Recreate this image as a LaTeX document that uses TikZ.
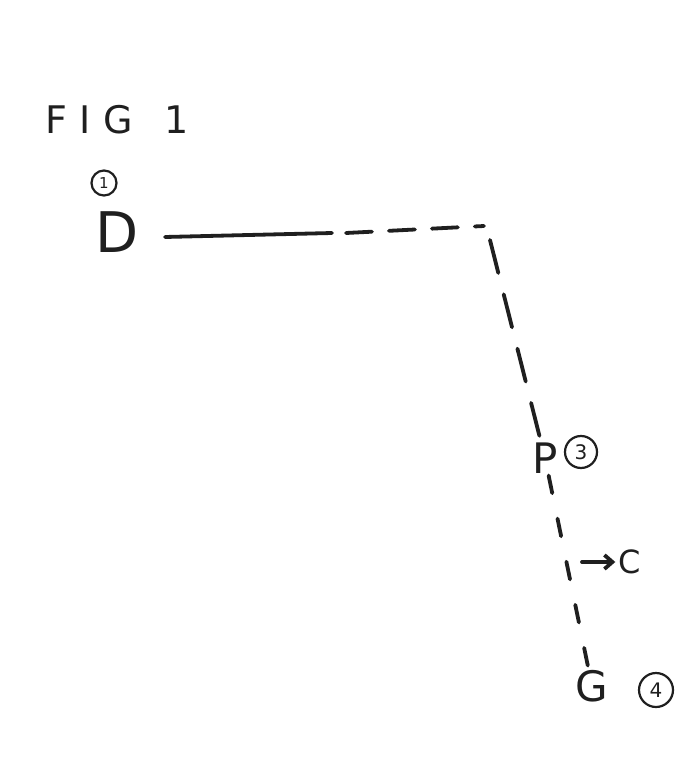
\documentclass[tikz,border=0pt]{standalone}
\usepackage{fontspec}
\setmainfont{DejaVu Sans}
\usetikzlibrary{arrows.meta}
\begin{document}
\begin{tikzpicture}[x=1pt,y=-1pt,
  ink/.style={draw=black!88,line width=3.8pt,line cap=round},
  midletter/.style={font=\fontsize{42}{42}\selectfont,text=black!88,inner sep=2pt},
  numcircle/.style={draw=black!88,line width=2.2pt,circle,inner sep=1pt,text=black!88},
  dashA/.style={ink,dash pattern=on 26pt off 17pt},
  dashB/.style={ink,dash pattern=on 34pt off 22pt},
  dashC/.style={ink,dash pattern=on 18pt off 26pt}]
\fill[white] (0,0) rectangle (700,773);
\useasboundingbox (0,0) rectangle (700,773);

\node[font=\fontsize{38}{38}\selectfont,text=black!88] (fig) at (117,120) {F\,\,I\,\,G\,\,\, 1};
\node[numcircle,minimum size=25pt,font=\fontsize{15}{15}\selectfont] (n1) at (104,183) {1};
\node[font=\fontsize{56}{56}\selectfont,text=black!88,inner sep=1pt] (D) at (117,232) {D};

\coordinate (mid) at (332,233);
\coordinate (corner) at (484,226);
\coordinate (vtop) at (490,240);
\node[midletter] (P) at (545,458) {P};
\node[numcircle,minimum size=32pt,font=\fontsize{20}{20}\selectfont] (n3) at (581,452) {3};
\node[midletter] (G) at (592,686) {G};
\node[numcircle,minimum size=34pt,font=\fontsize{20}{20}\selectfont] (n4) at (656,690) {4};
\node[font=\fontsize{32}{32}\selectfont,text=black!88] (C) at (630,562) {C};
\coordinate (tap) at (582,562);

\draw[ink] (165,237) -- (mid);
\draw[dashA] (mid) ++(14,0) -- (corner);
\draw[dashB] (vtop) -- (P);
\draw[dashC] (P) -- (G);
\draw[ink,-{Straight Barb[length=8pt,width=14pt]}] (tap) -- (C.west);
\end{tikzpicture}
\end{document}
